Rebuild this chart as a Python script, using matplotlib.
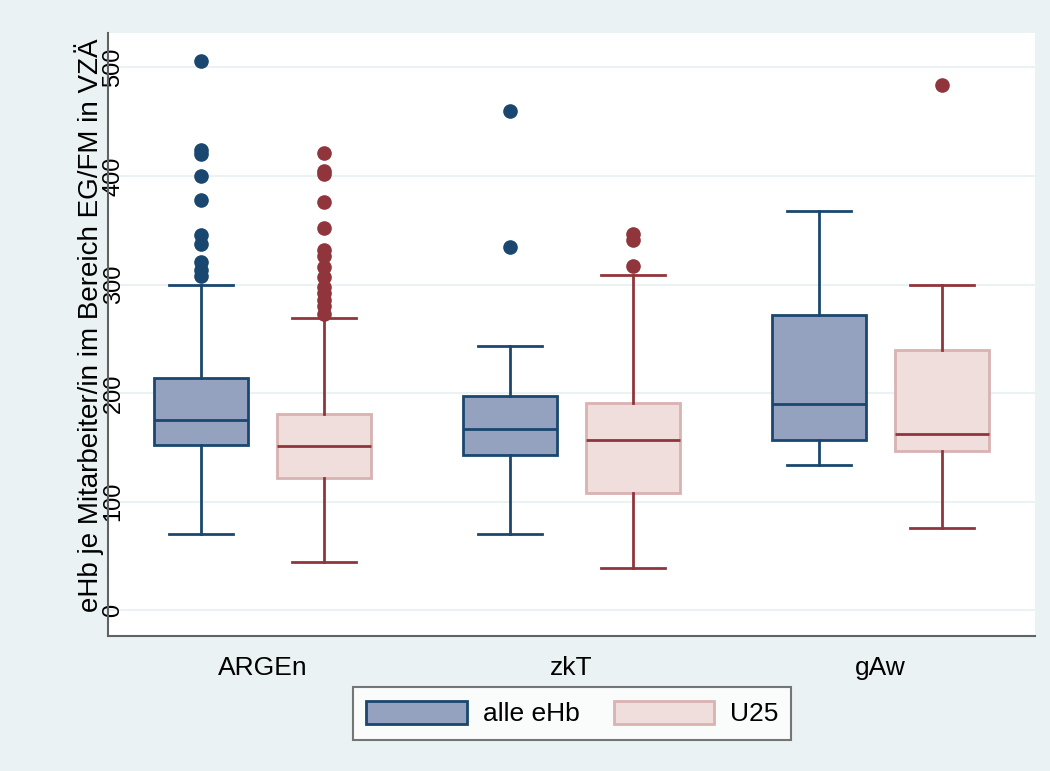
import matplotlib
matplotlib.use("Agg")
import matplotlib.pyplot as plt
from matplotlib.patches import Patch

plt.rcParams['font.family'] = ['Liberation Sans', 'DejaVu Sans']

groups = ["ARGEn", "zkT", "gAw"]
series = ["alle eHb", "U25"]

# alle eHb
alle_whislo = [70, 70, 133.5]
alle_q1 = [152, 143, 156.5]
alle_med = [175, 167, 190]
alle_q3 = [214, 197, 272]
alle_whishi = [300, 243.5, 368]
alle_fliers = [[506, 424, 420, 400, 378, 346, 337, 321, 313, 308],
               [460, 335],
               []]

# U25
u25_whislo = [44.5, 39, 75.5]
u25_q1 = [122, 108, 146.5]
u25_med = [151, 156.5, 162]
u25_q3 = [180.5, 190.5, 239.5]
u25_whishi = [269, 309, 300]
u25_fliers = [[421, 405, 402, 376, 352, 332, 326, 316, 307, 298, 292, 286, 280, 273],
              [347, 341, 317],
              [484]]

navy = "#1a476f"
maroon = "#90353b"
navy_fill = "#95a2bf"
maroon_fill = "#efdedc"
maroon_edge = "#d9b2b2"
bg = "#eaf2f3"


def make_stats(lo, q1, med, q3, hi, fl):
    stats = []
    for i in range(len(lo)):
        stats.append(dict(whislo=lo[i], q1=q1[i], med=med[i], q3=q3[i],
                          whishi=hi[i], fliers=fl[i]))
    return stats


fig = plt.figure(figsize=(10.5, 7.71), dpi=100, facecolor=bg)
ax = fig.add_axes([0.1029, 0.175, 0.8828, 0.7825])
ax.set_facecolor("white")

pos = list(range(len(groups)))
off = 0.2
w = 0.304
capw = 0.207

ax.bxp(make_stats(alle_whislo, alle_q1, alle_med, alle_q3, alle_whishi, alle_fliers),
       positions=[p - off for p in pos], widths=w, capwidths=capw,
       patch_artist=True, manage_ticks=False,
       boxprops=dict(facecolor=navy_fill, edgecolor=navy, linewidth=2),
       medianprops=dict(color=navy, linewidth=2),
       whiskerprops=dict(color=navy, linewidth=2),
       capprops=dict(color=navy, linewidth=2),
       flierprops=dict(marker='o', markerfacecolor=navy, markeredgecolor=navy,
                       markersize=9.5))

ax.bxp(make_stats(u25_whislo, u25_q1, u25_med, u25_q3, u25_whishi, u25_fliers),
       positions=[p + off for p in pos], widths=w, capwidths=capw,
       patch_artist=True, manage_ticks=False,
       boxprops=dict(facecolor=maroon_fill, edgecolor=maroon_edge, linewidth=2),
       medianprops=dict(color=maroon, linewidth=2),
       whiskerprops=dict(color=maroon, linewidth=2),
       capprops=dict(color=maroon, linewidth=2),
       flierprops=dict(marker='o', markerfacecolor=maroon, markeredgecolor=maroon,
                       markersize=9.5))

ax.set_xlim(-0.5, 2.5)
ax.set_ylim(-24, 532)
ax.set_xticks(pos)
ax.set_xticklabels(groups, fontsize=19)
ax.set_yticks([0, 100, 200, 300, 400, 500])
ax.set_yticklabels(["0", "100", "200", "300", "400", "500"], fontsize=17,
                   rotation=90, va="center", ha="center")
ax.tick_params(axis='x', length=0, pad=14)
ax.tick_params(axis='y', length=0, pad=-4)
ax.set_ylabel("eHb je Mitarbeiter/in im Bereich EG/FM in VZÄ", fontsize=20, labelpad=-1)
ax.yaxis.label.set_y(0.516)

ax.grid(axis='y', color=bg, linewidth=1.5)
ax.set_axisbelow(True)
for s in ["top", "right"]:
    ax.spines[s].set_visible(False)
for s in ["left", "bottom"]:
    ax.spines[s].set_color("#5f6366")
    ax.spines[s].set_linewidth(1.5)

handles = [Patch(facecolor=navy_fill, edgecolor=navy, linewidth=2),
           Patch(facecolor=maroon_fill, edgecolor=maroon_edge, linewidth=2)]
leg = fig.legend(handles, series, loc="center", bbox_to_anchor=(0.545, 0.0746),
                 ncol=2, fontsize=19, frameon=True, fancybox=False,
                 handlelength=3.8, handleheight=1.0, columnspacing=1.3,
                 handletextpad=0.6, borderpad=0.5)
leg.get_frame().set_edgecolor("#555555")
leg.get_frame().set_linewidth(1.5)

fig.savefig("out.png", dpi=100, facecolor=bg)
